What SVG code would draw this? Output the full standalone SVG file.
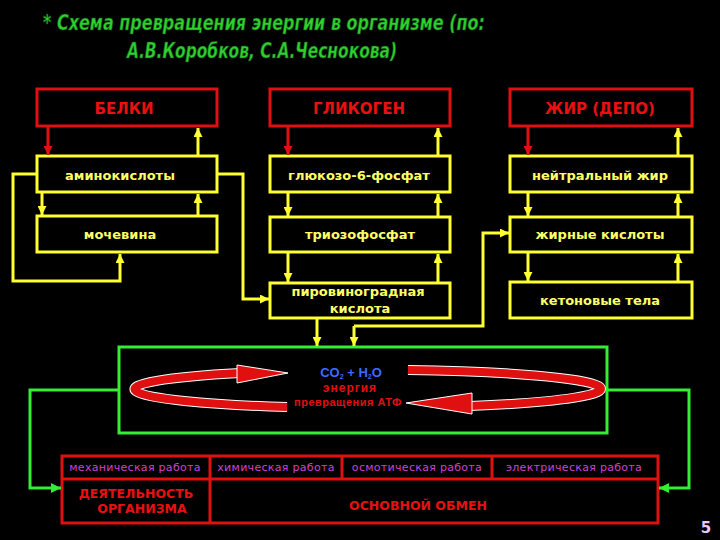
<svg xmlns="http://www.w3.org/2000/svg" width="720" height="540" viewBox="0 0 720 540">
<defs>
<style>
.title{font-family:"DejaVu Sans",Verdana,sans-serif;font-weight:bold;font-style:italic;font-size:22px;fill:#2fd02f;stroke:#0b4d0b;stroke-width:0.6px;text-anchor:middle}
.rbox{fill:none;stroke:#e01010;stroke-width:3}
.ybox{fill:none;stroke:#ffff33;stroke-width:3}
.rlab{font-family:"DejaVu Sans",Verdana,sans-serif;font-weight:bold;font-size:15px;fill:#e81010;text-anchor:middle}
.ylab{font-family:"DejaVu Sans",Verdana,sans-serif;font-weight:bold;font-size:13px;fill:#ffff66;text-anchor:middle}
.ya{fill:none;stroke:#ffff33;stroke-width:3;marker-end:url(#my)}
.ra{fill:none;stroke:#e01010;stroke-width:3;marker-end:url(#mr)}
.ga{fill:none;stroke:#33ee33;stroke-width:3;marker-end:url(#mg)}
.mag{font-family:"DejaVu Sans",Verdana,sans-serif;font-size:11px;fill:#d040d0;text-anchor:middle;letter-spacing:0.3px}
.btxt{font-family:"DejaVu Sans",Verdana,sans-serif;font-weight:bold;font-size:12.5px;fill:#e81010;text-anchor:middle}
</style>
<marker id="my" viewBox="0 0 10 10" refX="10" refY="5" markerWidth="9" markerHeight="9" markerUnits="userSpaceOnUse" orient="auto"><path d="M0,0 L10,5 L0,10 z" fill="#ffff33"/></marker>
<marker id="mr" viewBox="0 0 10 10" refX="10" refY="5" markerWidth="9" markerHeight="9" markerUnits="userSpaceOnUse" orient="auto"><path d="M0,0 L10,5 L0,10 z" fill="#e01010"/></marker>
<marker id="mg" viewBox="0 0 10 10" refX="10" refY="5" markerWidth="10" markerHeight="10" markerUnits="userSpaceOnUse" orient="auto"><path d="M0,0 L10,5 L0,10 z" fill="#33ee33"/></marker>
</defs>
<rect x="0" y="0" width="720" height="540" fill="#000"/>
<g id="title">
<text class="title" x="264" y="30" textLength="442" lengthAdjust="spacingAndGlyphs">*  Схема превращения энергии в организме (по:</text>
<text class="title" x="262" y="58" textLength="270" lengthAdjust="spacingAndGlyphs">А.В.Коробков, С.А.Чеснокова)</text>
</g>
<g id="belki"><rect class="rbox" x="37" y="89" width="180" height="37"/><text class="rlab" x="124" y="114">БЕЛКИ</text></g>
<g id="glikogen"><rect class="rbox" x="270" y="89" width="180" height="37"/><text class="rlab" x="359" y="114">ГЛИКОГЕН</text></g>
<g id="zhir"><rect class="rbox" x="510" y="89" width="182" height="37"/><text class="rlab" x="600" y="114">ЖИР (ДЕПО)</text></g>
<g id="amino"><rect class="ybox" x="37" y="156" width="180" height="36"/><text class="ylab" x="120" y="180">аминокислоты</text></g>
<g id="glucose"><rect class="ybox" x="270" y="156" width="180" height="36"/><text class="ylab" x="359" y="180">глюкозо-6-фосфат</text></g>
<g id="neutral"><rect class="ybox" x="510" y="156" width="182" height="36"/><text class="ylab" x="600" y="180">нейтральный жир</text></g>
<g id="urea"><rect class="ybox" x="37" y="216" width="180" height="36"/><text class="ylab" x="120" y="239">мочевина</text></g>
<g id="triose"><rect class="ybox" x="270" y="217" width="180" height="35"/><text class="ylab" x="360" y="239">триозофосфат</text></g>
<g id="fattyacids"><rect class="ybox" x="510" y="217" width="182" height="35"/><text class="ylab" x="600" y="239">жирные кислоты</text></g>
<g id="pyruvate"><rect class="ybox" x="270" y="283" width="180" height="35"/><text class="ylab" x="358" y="296">пировиноградная</text><text class="ylab" x="360" y="313">кислота</text></g>
<g id="ketones"><rect class="ybox" x="510" y="282" width="182" height="36"/><text class="ylab" x="600" y="305">кетоновые тела</text></g>
<g id="energy">
<rect x="119" y="347" width="488" height="86" fill="none" stroke="#33ee33" stroke-width="3"/>
<path d="M287,407 A227,19 0 0 1 240,373" fill="none" stroke="#fff" stroke-width="10"/>
<path d="M287,407 A227,19 0 0 1 240,373" fill="none" stroke="#e01010" stroke-width="8"/>
<polygon points="237,365 288,373 237,383" fill="#e01010" stroke="#fff" stroke-width="1"/>
<path d="M408,370 A227,19 0 0 1 470,406" fill="none" stroke="#fff" stroke-width="10"/>
<path d="M408,370 A227,19 0 0 1 470,406" fill="none" stroke="#e01010" stroke-width="8"/>
<polygon points="472,393 406,403 472,414" fill="#e01010" stroke="#fff" stroke-width="1"/>
<text x="351" y="377" font-family="Liberation Sans, Arial, sans-serif" font-weight="bold" font-size="13" fill="#3a6cff" text-anchor="middle">CO<tspan font-size="7" dy="2">2</tspan><tspan dy="-2"> + H</tspan><tspan font-size="7" dy="2">2</tspan><tspan dy="-2">O</tspan></text>
<text x="350" y="392" font-family="Liberation Sans, Arial, sans-serif" font-weight="bold" font-size="12" fill="#e01010" text-anchor="middle" letter-spacing="1">энергия</text>
<text x="348" y="406" font-family="Liberation Sans, Arial, sans-serif" font-weight="bold" font-size="11" fill="#e01010" text-anchor="middle" letter-spacing="0.5">превращения АТФ</text>
</g>
<g id="table">
<rect x="62" y="456" width="596" height="67" fill="none" stroke="#e01010" stroke-width="3"/>
<line x1="62" y1="479" x2="658" y2="479" stroke="#e01010" stroke-width="3"/>
<line x1="210" y1="456" x2="210" y2="523" stroke="#e01010" stroke-width="3"/>
<line x1="342" y1="456" x2="342" y2="479" stroke="#e01010" stroke-width="3"/>
<line x1="492" y1="456" x2="492" y2="479" stroke="#e01010" stroke-width="3"/>
<text class="mag" x="135" y="471">механическая работа</text>
<text class="mag" x="276" y="471">химическая работа</text>
<text class="mag" x="417" y="471">осмотическая работа</text>
<text class="mag" x="574" y="471">электрическая работа</text>
<text class="btxt" x="136" y="498">ДЕЯТЕЛЬНОСТЬ</text>
<text class="btxt" x="142" y="513">ОРГАНИЗМА</text>
<text class="btxt" x="418" y="510">ОСНОВНОЙ ОБМЕН</text>
</g>
<g id="connectors">
<path class="ra" d="M48,127 V155"/>
<path class="ra" d="M288,127 V155"/>
<path class="ra" d="M528,127 V155"/>
<path class="ya" d="M198,156 V128"/>
<path class="ya" d="M438,156 V128"/>
<path class="ya" d="M678,156 V128"/>
<path class="ya" d="M42,192 V215"/>
<path class="ya" d="M288,192 V216"/>
<path class="ya" d="M528,192 V216"/>
<path class="ya" d="M198,216 V194"/>
<path class="ya" d="M438,217 V194"/>
<path class="ya" d="M678,217 V194"/>
<path class="ya" d="M288,252 V282"/>
<path class="ya" d="M528,252 V281"/>
<path class="ya" d="M438,283 V254"/>
<path class="ya" d="M678,282 V254"/>
<path class="ya" d="M37,174 H13 V281 H120 V254"/>
<path class="ya" d="M217,174 H243 V299 H269"/>
<path class="ya" d="M317,318 V346"/>
<path class="ya" d="M354,326 V346"/>
<path class="ya" d="M354,326 H483 V233 H509"/>
<path class="ga" d="M119,390 H30 V488 H61"/>
<path class="ga" d="M607,390 H689 V488 H659"/>
</g>
<text x="706" y="533" font-family="DejaVu Sans, sans-serif" font-weight="bold" font-size="15" fill="#e8c8ff" text-anchor="middle">5</text>
</svg>
